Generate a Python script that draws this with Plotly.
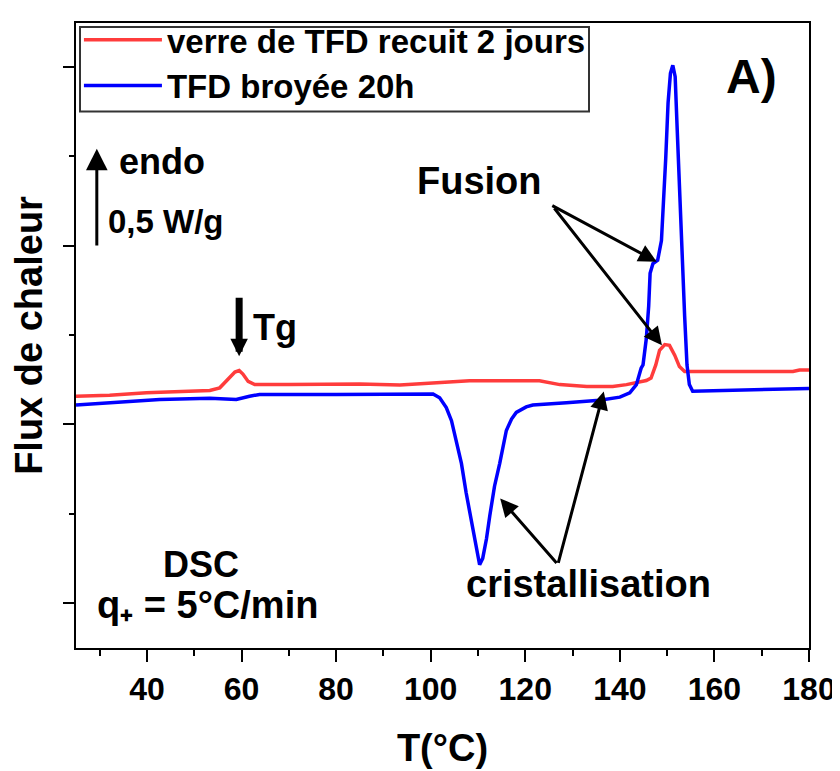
import plotly.graph_objects as go

# ---- data ----
red_name = "verre de TFD recuit 2 jours"
red_T = [25, 32.1, 39.9, 48.3, 53.3, 55.4, 57.1, 58.6, 59.5, 60.3, 61.4, 62.8, 70, 85, 93.5,
         108.2, 123.0, 127.3, 133.0, 138.5, 141.4, 145.6, 146.6, 147.6, 148.4, 149.5, 150.5,
         151.6, 152.6, 153.7, 165, 176.6, 178, 180]
red_v = [1.157, 1.163, 1.176, 1.185, 1.189, 1.204, 1.249, 1.292, 1.301, 1.281, 1.240, 1.222,
         1.222, 1.226, 1.220, 1.244, 1.244, 1.222, 1.211, 1.211, 1.222, 1.245, 1.259, 1.332,
         1.414, 1.446, 1.442, 1.387, 1.323, 1.295, 1.295, 1.295, 1.304, 1.304]

blue_name = "TFD broyée 20h"
blue_T = [25, 32.1, 42.7, 53.3, 58.9, 61.7, 63.8, 80, 100.5, 101.9, 103.3, 104.4, 105.4, 106.5,
          107.5, 108.6, 109.7, 110.35, 111.0, 111.8, 112.5, 113.5, 114.6, 116.0, 117.1, 118.1,
          120.2, 121.6, 128.7, 135.7, 140.0, 142.1, 143.5, 144.5, 144.9, 145.6, 146.1, 146.4,
          147.0, 148.0, 148.8, 149.2, 149.7, 150.2, 150.7, 151.2, 151.7, 152.1, 152.6, 153.2,
          153.7, 154.2, 154.7, 155.4, 161.1, 180]
blue_v = [1.108, 1.121, 1.139, 1.145, 1.139, 1.157, 1.167, 1.166, 1.170, 1.148, 1.093, 1.020,
          0.910, 0.781, 0.616, 0.451, 0.286, 0.213, 0.249, 0.359, 0.488, 0.653, 0.781, 0.965,
          1.029, 1.066, 1.097, 1.108, 1.121, 1.135, 1.152, 1.176, 1.222, 1.314, 1.332, 1.480,
          1.662, 1.845, 1.900, 1.919, 2.029, 2.212, 2.488, 2.800, 2.965, 3.010, 2.946, 2.671,
          2.304, 1.937, 1.607, 1.332, 1.222, 1.185, 1.189, 1.200]

x_range = [25, 180]
y_range = [-0.253, 3.247]
x_title = "T(°C)"
y_title = "Flux de chaleur"

FONT = "Liberation Sans, Arial, sans-serif"
RED = "#ff3c3c"
BLUE = "#0000ff"

fig = go.Figure()
fig.add_trace(go.Scatter(x=red_T, y=red_v, mode="lines", name=red_name,
                         line=dict(color=RED, width=3.5)))
fig.add_trace(go.Scatter(x=blue_T, y=blue_v, mode="lines", name=blue_name,
                         line=dict(color=BLUE, width=3.5)))

def txt(text, x, y, size, xanchor="center"):
    fig.add_annotation(text=text, x=x, y=y, xref="x", yref="y", showarrow=False,
                       xanchor=xanchor, yanchor="middle",
                       font=dict(family=FONT, size=size, color="black", weight="bold"))

def arrow(x0, y0, x1, y1, width=3, size=1.2):
    fig.add_annotation(text="", x=x1, y=y1, ax=x0, ay=y0, xref="x", yref="y",
                       axref="x", ayref="y", showarrow=True, arrowhead=2,
                       arrowwidth=width, arrowsize=size, arrowcolor="black", standoff=0,
                       font=dict(size=12))

txt("A)", 167.9, 2.95, 48)
txt("Fusion", 110.4, 2.36, 38)
txt("cristallisation", 133.3, 0.105, 38)
txt("endo", 43.2, 2.47, 36)
txt("0,5 W/g", 44.1, 2.135, 33)
txt("Tg", 62.0, 1.541, 36, xanchor="left")
txt("DSC", 51.5, 0.215, 36)
txt("q₊ = 5°C/min", 52.8, -0.01, 38)

# Fusion arrows
arrow(125.4, 2.229, 147.8, 1.91)
arrow(125.9, 2.218, 148.9, 1.442)
# cristallisation arrows
arrow(126.9, 0.215, 114.7, 0.584)
arrow(126.9, 0.215, 136.6, 1.183)
# Tg arrow
arrow(59.5, 1.717, 59.5, 1.381, width=7, size=0.5)
# endo arrow
arrow(29.4, 1.992, 29.4, 2.543, width=3, size=1.44)

# legend frame
fig.add_shape(type="rect", xref="paper", yref="paper",
              x0=(80 - 76) / 733, x1=(589 - 76) / 733,
              y0=(648 - 102) / 636, y1=(648 - 16) / 636,
              line=dict(color="#333333", width=2), fillcolor="rgba(0,0,0,0)", layer="above")

fig.update_layout(
    width=832, height=763,
    margin=dict(l=68, r=31, t=4, b=123),
    paper_bgcolor="white", plot_bgcolor="white",
    font=dict(family=FONT, color="black"),
    showlegend=True,
    legend=dict(x=0.004, y=1.018, xanchor="left", yanchor="top",
                bgcolor="rgba(0,0,0,0)", borderwidth=0,
                font=dict(family=FONT, size=33, color="black", weight="bold"),
                itemwidth=78, tracegroupgap=0),
    xaxis=dict(range=x_range, showgrid=False, zeroline=False,
               showline=True, linecolor="black", linewidth=2, mirror=True,
               ticks="outside", tick0=0, dtick=20, ticklen=12, tickwidth=2, tickcolor="black",
               minor=dict(ticks="outside", dtick=10, tick0=0, ticklen=6, tickwidth=2, tickcolor="black"),
               tickfont=dict(family=FONT, size=32, color="black", weight="bold"),
               title=dict(text=x_title, standoff=28,
                          font=dict(family=FONT, size=38, color="black", weight="bold")),
               automargin=False),
    yaxis=dict(range=y_range, showgrid=False, zeroline=False,
               showline=True, linecolor="black", linewidth=2, mirror=True,
               ticks="outside", tick0=0, dtick=1, ticklen=11, tickwidth=2, tickcolor="black",
               minor=dict(ticks="outside", dtick=0.5, tick0=0, ticklen=5, tickwidth=2, tickcolor="black"),
               showticklabels=False,
               title=dict(text=y_title, standoff=10,
                          font=dict(family=FONT, size=38, color="black", weight="bold")),
               automargin=False),
)

fig.write_html("out.html")
